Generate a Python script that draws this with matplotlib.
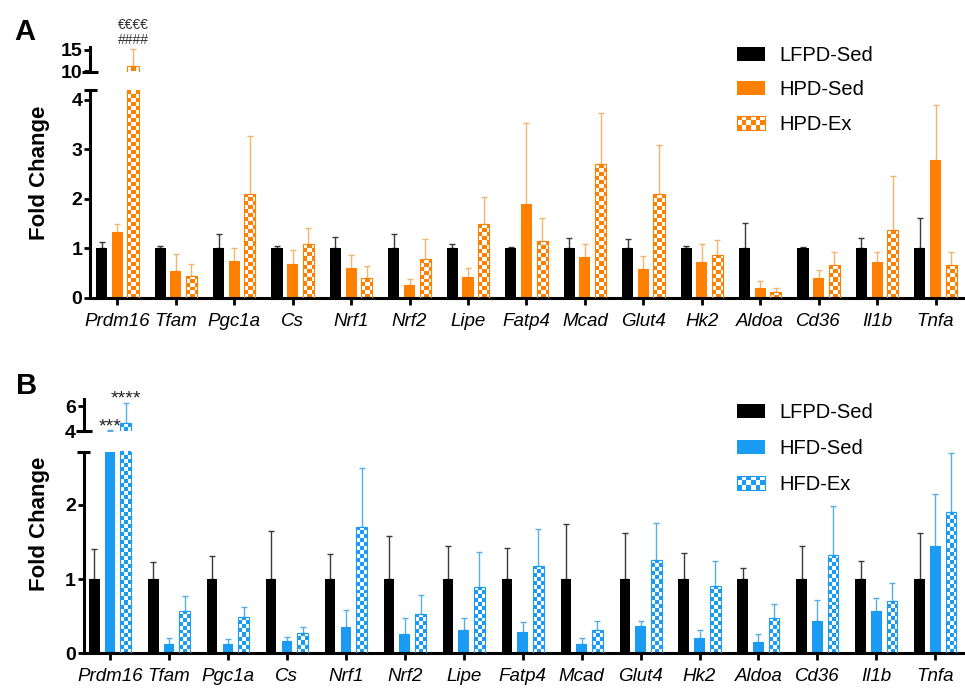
import numpy as np
import matplotlib
matplotlib.use("Agg")
import matplotlib.pyplot as plt
from matplotlib.colors import ListedColormap
from matplotlib.patches import Rectangle, Patch
from matplotlib.legend_handler import HandlerBase

plt.rcParams['font.family'] = ['Liberation Sans', 'DejaVu Sans']

genes = ['Prdm16', 'Tfam', 'Pgc1a', 'Cs', 'Nrf1', 'Nrf2', 'Lipe', 'Fatp4',
         'Mcad', 'Glut4', 'Hk2', 'Aldoa', 'Cd36', 'Il1b', 'Tnfa']

# panel A: protein diet
labels_a = ['LFPD-Sed', 'HPD-Sed', 'HPD-Ex']
lfpd_a = [1.0] * 15
lfpd_a_err = [0.14, 0.06, 0.30, 0.06, 0.23, 0.29, 0.09, 0.02, 0.22, 0.20, 0.05, 0.51, 0.03, 0.22, 0.61]
hpd_sed = [1.34, 0.54, 0.75, 0.68, 0.61, 0.27, 0.43, 1.90, 0.83, 0.59, 0.73, 0.20, 0.41, 0.72, 2.78]
hpd_sed_err = [0.16, 0.34, 0.25, 0.28, 0.25, 0.12, 0.17, 1.64, 0.26, 0.26, 0.36, 0.14, 0.16, 0.21, 1.11]
hpd_ex = [11.2, 0.45, 2.11, 1.09, 0.40, 0.78, 1.49, 1.15, 2.70, 2.10, 0.87, 0.13, 0.66, 1.37, 0.66]
hpd_ex_err = [4.05, 0.23, 1.16, 0.33, 0.24, 0.41, 0.55, 0.46, 1.03, 0.98, 0.31, 0.07, 0.27, 1.09, 0.27]

# panel B: fat diet
labels_b = ['LFPD-Sed', 'HFD-Sed', 'HFD-Ex']
lfpd_b = [1.0] * 15
lfpd_b_err = [0.40, 0.23, 0.31, 0.64, 0.34, 0.58, 0.45, 0.42, 0.74, 0.62, 0.35, 0.15, 0.44, 0.24, 0.62]
hfd_sed = [4.03, 0.13, 0.13, 0.16, 0.36, 0.26, 0.31, 0.29, 0.12, 0.37, 0.21, 0.15, 0.43, 0.57, 1.45]
hfd_sed_err = [0.07, 0.07, 0.06, 0.06, 0.22, 0.21, 0.16, 0.13, 0.08, 0.07, 0.11, 0.11, 0.29, 0.17, 0.69]
hfd_ex = [4.68, 0.57, 0.49, 0.27, 1.70, 0.53, 0.89, 1.18, 0.32, 1.26, 0.91, 0.48, 1.32, 0.71, 1.90]
hfd_ex_err = [1.52, 0.20, 0.13, 0.08, 0.80, 0.25, 0.47, 0.49, 0.12, 0.49, 0.33, 0.19, 0.66, 0.24, 0.79]

ORANGE = '#FF8000'
ORANGE_ERR = '#F0B56E'
BLUE = '#1A9CF5'
BLUE_ERR = '#55AEE8'
BLACK_ERR = '#3A3A3A'

W, H = 965, 688
fig = plt.figure(figsize=(W / 100, H / 100), dpi=100)


def add_ax(left, right, top, bottom):
    return fig.add_axes([left / W, 1 - bottom / H, (right - left) / W, (bottom - top) / H])


def checker_fill(ax, patch, color, sq=4.0):
    x0, x1 = ax.get_xlim()
    y0, y1 = ax.get_ylim()
    ppx = ax.bbox.width / (x1 - x0)
    ppy = ax.bbox.height / (y1 - y0)
    x, w, h = patch.get_x(), patch.get_width(), patch.get_height()
    start = max(y0, 0)
    stop = min(h, y1)
    if stop <= start:
        return
    ncol = max(1, int(np.ceil(w * ppx / sq)))
    nrow = max(1, int(round((stop - start) * ppy / sq)))
    grid = np.indices((nrow, ncol)).sum(axis=0) % 2
    im = ax.imshow(grid, extent=(x, x + ncol * sq / ppx, start, stop),
                   origin='lower', cmap=ListedColormap(['white', color]), vmin=0, vmax=1,
                   aspect='auto', interpolation='nearest', zorder=2)
    im.set_clip_path(patch)


class CheckerHandler(HandlerBase):
    def __init__(self, color, ncol=6, nrow=3):
        super().__init__()
        self.color = color
        self.ncol = ncol
        self.nrow = nrow

    def create_artists(self, legend, orig_handle, xdescent, ydescent, width, height, fontsize, trans):
        arts = [Rectangle((-xdescent, -ydescent), width, height, facecolor='white',
                          edgecolor=self.color, lw=0.8, transform=trans)]
        cw, ch = width / self.ncol, height / self.nrow
        for r in range(self.nrow):
            for c in range(self.ncol):
                if (r + c) % 2 == 0:
                    arts.append(Rectangle((-xdescent + c * cw, -ydescent + r * ch), cw, ch,
                                          facecolor=self.color, edgecolor='none', transform=trans))
        return arts


def draw_panel(ax_lo, ax_up, series, errs, color, ecolor, xlim, ylim_lo, ylim_up,
               ticks_lo, ticks_up, offset, width):
    x = np.arange(len(genes))
    fills = ['black', color, 'none']
    ecols = [BLACK_ERR, ecolor, ecolor]
    for ax, ylim in ((ax_lo, ylim_lo), (ax_up, ylim_up)):
        ax.set_xlim(*xlim)
        ax.set_ylim(*ylim)
        for k in range(3):
            xs = x + (k - 1) * offset
            ax.errorbar(xs, series[k], yerr=[np.zeros(len(genes)), errs[k]], fmt='none',
                        ecolor=ecols[k], elinewidth=1.0, capsize=2.5, capthick=1.0, zorder=1)
            if k < 2:
                ax.bar(xs, series[k], width, color=fills[k], zorder=2)
            else:
                bars = ax.bar(xs, series[k], width, facecolor='none', edgecolor=color,
                              linewidth=0.8, zorder=3)
                for p in bars.patches:
                    checker_fill(ax, p, color)
        ax.set_xlim(*xlim)
        ax.set_ylim(*ylim)
        for s in ('top', 'right'):
            ax.spines[s].set_visible(False)
        ax.spines['left'].set_linewidth(2.2)
        ax.spines['bottom'].set_linewidth(2.2)
        ax.tick_params(axis='y', direction='out', length=4, width=2, pad=1.5, labelsize=14)

    ax_lo.set_yticks(ticks_lo)
    ax_lo.set_yticklabels([str(t) for t in ticks_lo], fontweight='bold')
    ax_lo.set_xticks(x)
    ax_lo.set_xticklabels(genes, fontstyle='italic', fontsize=13.5)
    ax_lo.tick_params(axis='x', direction='out', length=5, width=2, pad=5.5)

    ax_up.set_yticks(ticks_up)
    ax_up.set_yticklabels([str(t) for t in ticks_up], fontweight='bold')
    ax_up.spines['bottom'].set_visible(False)
    ax_up.set_xticks([])

    # break caps on the y axis
    d_lo = 6.5 / ax_lo.bbox.width
    ax_lo.plot([-d_lo, d_lo], [1, 1], transform=ax_lo.transAxes, color='black', lw=2.2,
               clip_on=False, solid_capstyle='butt')
    d_up = 8 / ax_up.bbox.width
    ax_up.plot([-d_up, d_up], [0, 0], transform=ax_up.transAxes, color='black', lw=2.2,
               clip_on=False, solid_capstyle='butt')


# Panel A
ax_a_lo = add_ax(90, 963, 90, 298)
ax_a_up = add_ax(90, 963, 47, 71.5)
draw_panel(ax_a_lo, ax_a_up, [lfpd_a, hpd_sed, hpd_ex], [lfpd_a_err, hpd_sed_err, hpd_ex_err],
           ORANGE, ORANGE_ERR, (-0.467, 14.47), (0, 4.2), (10, 15.65), [0, 1, 2, 3, 4], [10, 15],
           0.268, 0.19)
ax_a_up.annotate('####', xy=(0.268, hpd_ex[0] + hpd_ex_err[0]), xytext=(0, 3.5),
                 textcoords='offset points', ha='center', va='baseline', fontsize=10,
                 color='#333333', annotation_clip=False)
ax_a_up.annotate('€€€€', xy=(0.268, hpd_ex[0] + hpd_ex_err[0]), xytext=(0, 14.5),
                 textcoords='offset points', ha='center', va='baseline', fontsize=10,
                 color='#333333', annotation_clip=False)

# Panel B
ax_b_lo = add_ax(83.5, 963, 452, 653.3)
ax_b_up = add_ax(83.5, 963, 399, 431.5)
draw_panel(ax_b_lo, ax_b_up, [lfpd_b, hfd_sed, hfd_ex], [lfpd_b_err, hfd_sed_err, hfd_ex_err],
           BLUE, BLUE_ERR, (-0.45, 14.47), (0, 2.71), (4, 6.55), [0, 1, 2], [4, 6],
           0.267, 0.18)
ax_b_up.annotate('***', xy=(0, hfd_sed[0] + hfd_sed_err[0]), xytext=(0, -1),
                 textcoords='offset points', ha='center', va='baseline', fontsize=14,
                 color='#222222', annotation_clip=False)
ax_b_up.annotate('****', xy=(0.267, hfd_ex[0] + hfd_ex_err[0]), xytext=(0, 0),
                 textcoords='offset points', ha='center', va='baseline', fontsize=14,
                 color='#222222', annotation_clip=False)

# y labels and panel letters
fig.text(39 / W, 1 - 173 / H, 'Fold Change', rotation=90, ha='center', va='center',
         fontsize=16, fontweight='bold')
fig.text(39 / W, 1 - 524 / H, 'Fold Change', rotation=90, ha='center', va='center',
         fontsize=16, fontweight='bold')
fig.text(14 / W, 1 - 40 / H, 'A', fontsize=21, fontweight='bold', ha='left', va='baseline')
fig.text(16 / W, 1 - 394 / H, 'B', fontsize=21, fontweight='bold', ha='left', va='baseline')

# legends
for labels, color, top, spacing in ((labels_a, ORANGE, 46, 0.76), (labels_b, BLUE, 403, 0.84)):
    h_ex = Patch(facecolor='white', edgecolor=color)
    handles = [Patch(facecolor='black'), Patch(facecolor=color), h_ex]
    fig.legend(handles, labels, loc='upper left', bbox_to_anchor=(737 / W, 1 - top / H),
               frameon=False, fontsize=14.5, handlelength=1.4, handleheight=0.7,
               handletextpad=0.7, labelspacing=spacing, borderpad=0, borderaxespad=0,
               handler_map={h_ex: CheckerHandler(color)})

fig.savefig('out.png', dpi=100)
